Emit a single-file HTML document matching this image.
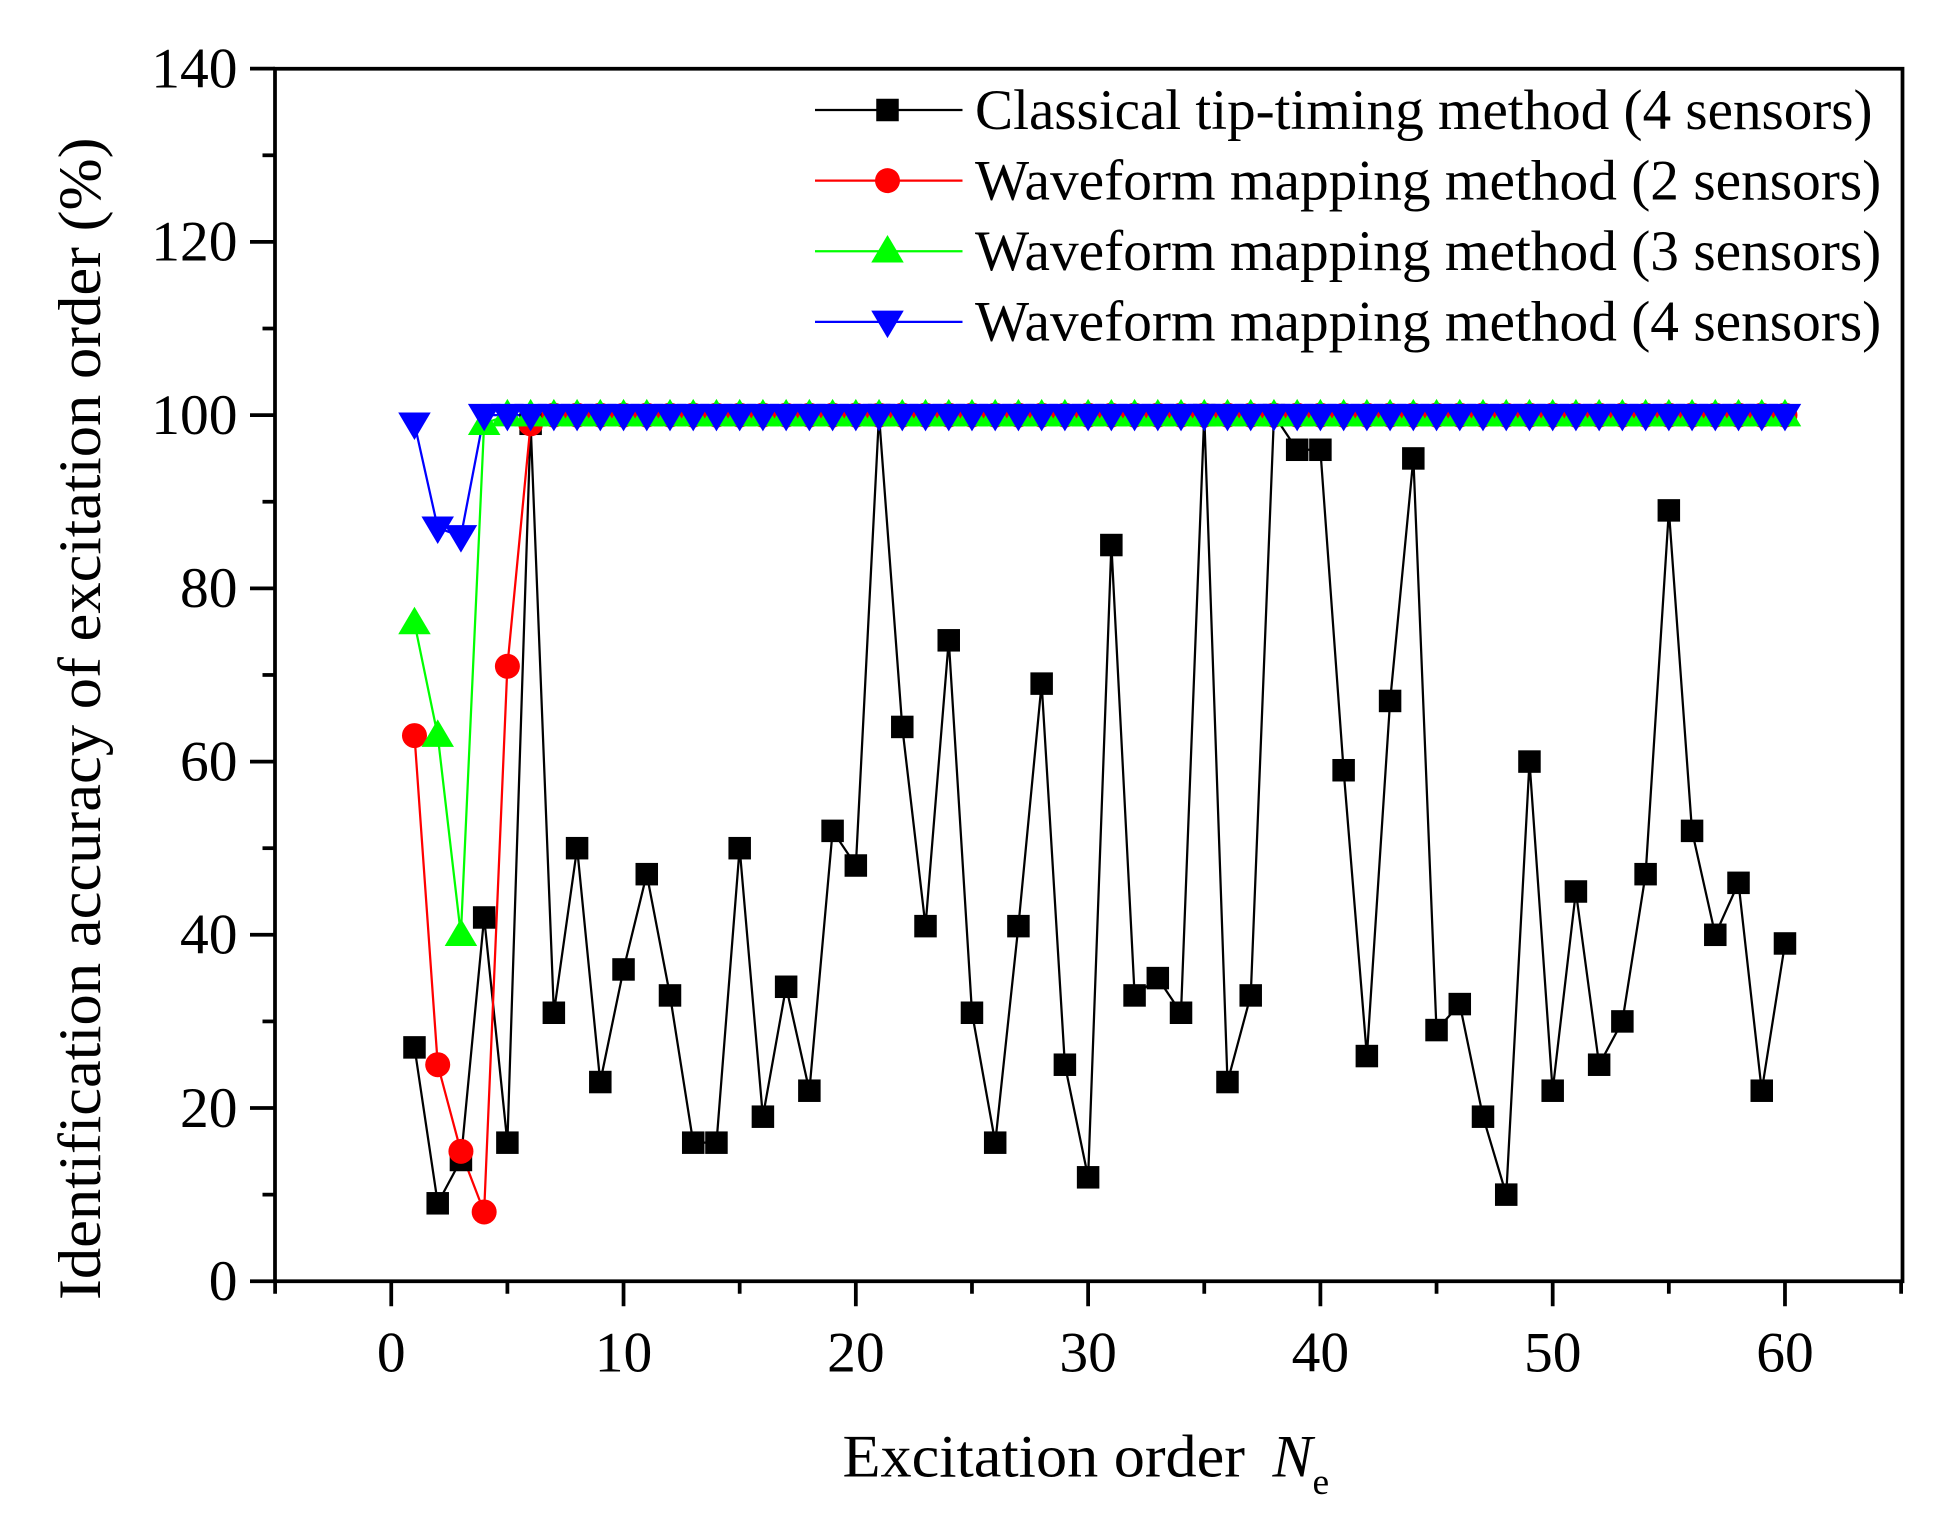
<!DOCTYPE html>
<html><head><meta charset="utf-8"><style>
html,body{margin:0;padding:0;background:#fff;}
svg{display:block;}
text{font-family:"Liberation Serif",serif;fill:#000;}
</style></head><body>
<svg id="s" width="1952" height="1519" viewBox="0 0 1561.6 1215.2" preserveAspectRatio="none" xmlns="http://www.w3.org/2000/svg"></svg>
<script>
const s=document.getElementById('s');
const X=v=>313+v*18.583, Y=v=>1025-v*6.929;
let h='';
const blk=[27,9,14,42,16,99,31,50,23,36,47,33,16,16,50,19,34,22,52,48,100,64,41,74,31,16,41,69,25,12,85,33,35,31,100,23,33,100,96,96,59,26,67,95,29,32,19,10,60,22,45,25,30,47,89,52,40,46,22,39];
const red=[63,25,15,8,71,99], grn=[76,63,40,99], blu=[99,87,86,100];
function full(a){const r=a.slice();while(r.length<60)r.push(100);return r;}
const R=full(red),G=full(grn),B=full(blu);
function line(d,c){let p=d.map((v,i)=>X(i+1).toFixed(1)+','+Y(v).toFixed(1)).join(' ');return `<polyline points="${p}" fill="none" stroke="${c}" stroke-width="1.8"/>`;}
function sq(x,y){return `<rect x="${x-9}" y="${y-9}" width="18" height="18" fill="#000"/>`;}
function ci(x,y){return `<circle cx="${x}" cy="${y}" r="10" fill="#f00"/>`;}
function up(x,y){return `<polygon points="${x-13},${y+9} ${x+13},${y+9} ${x},${y-13}" fill="#0f0"/>`;}
function dn(x,y){return `<polygon points="${x-13},${y-9} ${x+13},${y-9} ${x},${y+13}" fill="#00f"/>`;}
h+=line(blk,'#000')+line(R,'#f00')+line(G,'#0f0')+line(B,'#00f');
blk.forEach((v,i)=>h+=sq(X(i+1),Y(v)));
R.forEach((v,i)=>h+=ci(X(i+1),Y(v)));
G.forEach((v,i)=>h+=up(X(i+1),Y(v)));
B.forEach((v,i)=>h+=dn(X(i+1),Y(v)));
h+=`<rect x="220" y="55" width="1302" height="970" fill="none" stroke="#000" stroke-width="3"/>`;
for(let v=0;v<=140;v+=10){const y=Y(v);const L=v%20==0?20:10;h+=`<line x1="${220-L}" y1="${y}" x2="220" y2="${y}" stroke="#000" stroke-width="3"/>`;
 if(v%20==0)h+=`<text x="190" y="${y+15}" font-size="46" text-anchor="end">${v}</text>`;}
for(let v=-5;v<=65;v+=5){const x=X(v);const L=v%10==0?20:10;h+=`<line x1="${x}" y1="1025" x2="${x}" y2="${1025+L}" stroke="#000" stroke-width="3"/>`;
 if(v%10==0&&v>=0&&v<=60)h+=`<text x="${x}" y="1097" font-size="46" text-anchor="middle">${v}</text>`;}
const leg=[['#000',sq,'Classical tip-timing method (4 sensors)',718],['#f00',ci,'Waveform mapping method (2 sensors)',725],['#0f0',up,'Waveform mapping method (3 sensors)',725],['#00f',dn,'Waveform mapping method (4 sensors)',725]];
leg.forEach((l,i)=>{const y=88+i*56.5;h+=`<line x1="652" y1="${y}" x2="770" y2="${y}" stroke="${l[0]}" stroke-width="1.8"/>`+l[1](710,y)+`<text x="780" y="${y+15}" font-size="46" textLength="${l[3]}" lengthAdjust="spacingAndGlyphs">${l[2]}</text>`;});
h+=`<text transform="translate(80,575) rotate(-90)" font-size="48" text-anchor="middle" textLength="930" lengthAdjust="spacingAndGlyphs">Identification accuracy of excitation order (%)</text>`;
h+=`<text x="674" y="1181" font-size="48"><tspan textLength="322" lengthAdjust="spacingAndGlyphs">Excitation order</tspan><tspan font-style="italic" dx="22">N</tspan><tspan font-size="30" dy="14">e</tspan></text>`;
s.innerHTML=h;
</script>
</body></html>
